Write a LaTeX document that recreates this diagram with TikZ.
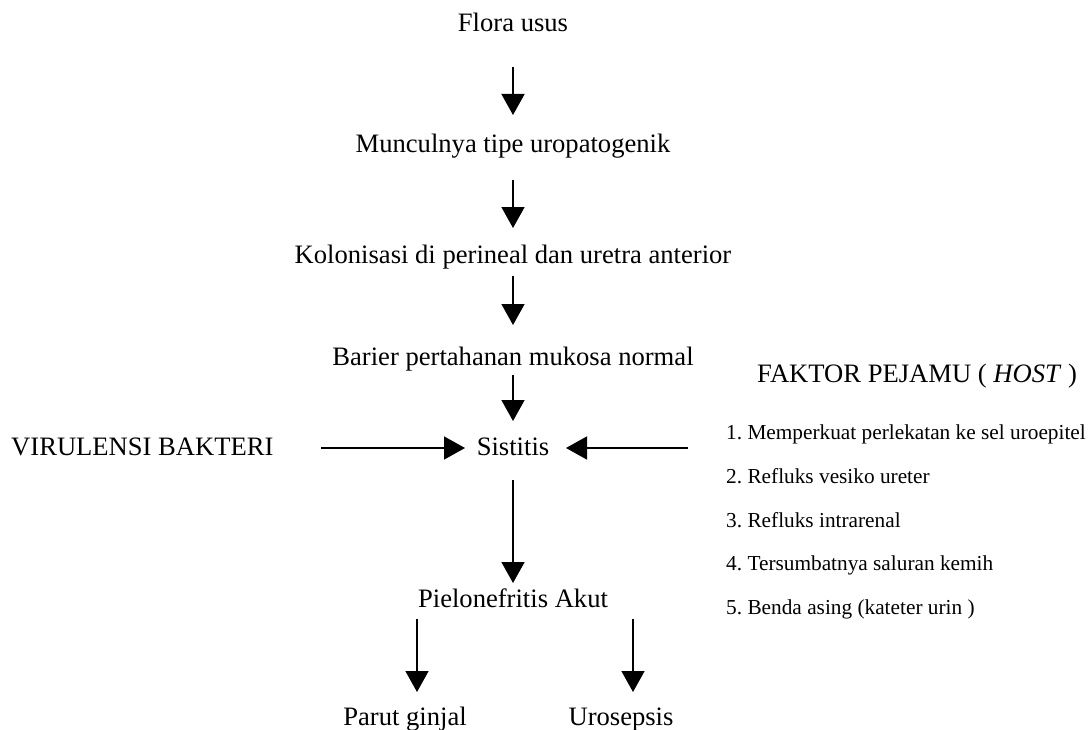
\documentclass[tikz,border=0pt]{standalone}
\usepackage{fontspec}
\setmainfont{Liberation Serif}
\usetikzlibrary{arrows.meta}
\begin{document}
\begin{tikzpicture}[x=1pt,y=-1pt,
  lbl/.style={anchor=base,inner sep=0pt,font=\fontsize{26.6}{30}\selectfont},
  itm/.style={anchor=base west,inner sep=0pt,font=\fontsize{21.3}{24}\selectfont},
  arr/.style={line width=1.6pt,-{Triangle[width=23pt,length=21pt]}}]
\useasboundingbox (0,0) rectangle (1091,730);
% main column
\node[lbl] (flora) at (513,32) {Flora usus};
\node[lbl] (munc) at (513,153) {Munculnya tipe uropatogenik};
\node[lbl] (kolo) at (513,263) {Kolonisasi di perineal dan uretra anterior};
\node[lbl] (barier) at (513,365) {Barier pertahanan mukosa normal};
\node[lbl] (sist) at (513,455) {Sistitis};
\node[lbl] (piel) at (513,607) {Pielonefritis Akut};
\node[lbl] (parut) at (405,725) {Parut ginjal};
\node[lbl] (uro) at (621,725) {Urosepsis};
\node[lbl,anchor=base west] (viru) at (11,455) {VIRULENSI BAKTERI};
\node[lbl,anchor=base west] (faktor) at (757,382) {FAKTOR PEJAMU ( \textit{HOST} )};
% list
\node[itm] (i1) at (726,439) {1.\ Memperkuat perlekatan ke sel uroepitel};
\node[itm] (i2) at (726,483) {2.\ Refluks vesiko ureter};
\node[itm] (i3) at (726,527) {3.\ Refluks intrarenal};
\node[itm] (i4) at (726,570) {4.\ Tersumbatnya saluran kemih};
\node[itm] (i5) at (726,614) {5.\ Benda asing (kateter urin )};
% connector ends
\coordinate (a1s) at (513,67);  \coordinate (a1e) at (513,115);
\coordinate (a2s) at (513,180); \coordinate (a2e) at (513,228);
\coordinate (a3s) at (513,276); \coordinate (a3e) at (513,325);
\coordinate (a4s) at (513,375); \coordinate (a4e) at (513,421);
\coordinate (a5s) at (513,480); \coordinate (a5e) at (513,583);
\coordinate (a6s) at (417,619); \coordinate (a6e) at (417,692);
\coordinate (a7s) at (633,619); \coordinate (a7e) at (633,692);
\coordinate (hls) at (321,448); \coordinate (hle) at (465,448);
\coordinate (hrs) at (688,448); \coordinate (hre) at (566,448);
\draw[arr] (a1s) -- (a1e);
\draw[arr] (a2s) -- (a2e);
\draw[arr] (a3s) -- (a3e);
\draw[arr] (a4s) -- (a4e);
\draw[arr] (a5s) -- (a5e);
\draw[arr] (a6s) -- (a6e);
\draw[arr] (a7s) -- (a7e);
\draw[arr] (hls) -- (hle);
\draw[arr] (hrs) -- (hre);
\end{tikzpicture}
\end{document}
